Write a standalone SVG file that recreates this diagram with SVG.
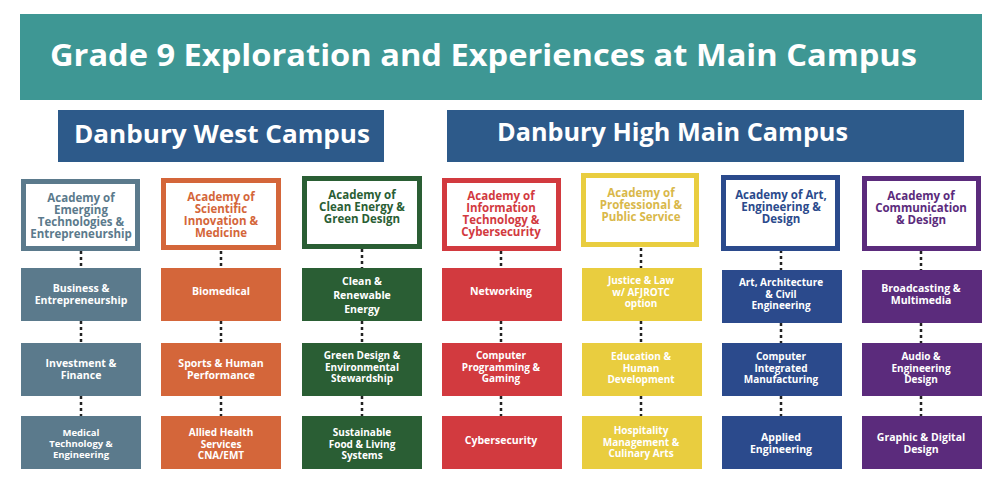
<svg xmlns="http://www.w3.org/2000/svg" width="1000" height="504" viewBox="0 0 1000 504">
<style>
text{font-family:"Open Sans","Liberation Sans",sans-serif;font-weight:700;text-anchor:middle}
.h{font-size:11.5px}
.c{font-size:10.5px;fill:#fff}
.s{font-size:10px}
.b{fill:#fff;font-size:25px;text-anchor:start}
.hd{fill:#fff;stroke-width:5}
.cn{stroke:#222;stroke-width:2.5;stroke-dasharray:3,3;fill:none}
</style>
<rect width="1000" height="504" fill="#fff"/>
<g id="title"><rect x="20" y="14" width="962" height="86" fill="#3e9794"/><text x="50" y="66" textLength="867" lengthAdjust="spacingAndGlyphs" style="font-size:31px;fill:#fff;text-anchor:start">Grade 9 Exploration and Experiences at Main Campus</text></g>
<g id="west"><rect x="58" y="110" width="326" height="52" fill="#2d5a8a"/><text class="b" x="74" y="143" textLength="296" lengthAdjust="spacingAndGlyphs">Danbury West Campus</text></g>
<g id="main"><rect x="447" y="110" width="517" height="52" fill="#2d5a8a"/><text class="b" x="497" y="141" textLength="351" lengthAdjust="spacingAndGlyphs">Danbury High Main Campus</text></g>
<g id="connectors">
<path class="cn" d="M81 251V268M81 321V343M81 396V416M221 251V268M221 321V343M221 396V416M362 249V268M362 321V343M362 396V416M501 251V268M501 321V343M501 396V416M641 248V268M641 321V343M641 396V416M781 250V270M781 323V343M781 396V416M921 251V270M921 323V343M921 396V416"/>
</g>
<g id="a1" fill="#5b7a8c"><rect class="hd" x="23.5" y="181.5" width="114" height="67" stroke="#5b7a8c"/><text class="h" x="81" y="202">Academy of<tspan x="81" dy="12">Emerging</tspan><tspan x="81" dy="12">Technologies &amp;</tspan><tspan x="81" dy="12">Entrepreneurship</tspan></text>
<rect x="21" y="268" width="120" height="53"/><text class="c" x="81" y="292">Business &amp;<tspan x="81" dy="12">Entrepreneurship</tspan></text>
<rect x="21" y="343" width="120" height="53"/><text class="c" x="81" y="367">Investment &amp;<tspan x="81" dy="12">Finance</tspan></text>
<rect x="21" y="416" width="120" height="53"/><text class="c" x="81" y="436" style="font-size:9.5px">Medical<tspan x="81" dy="11">Technology &amp;</tspan><tspan x="81" dy="11">Engineering</tspan></text></g>
<g id="a2" fill="#d4663a"><rect class="hd" x="163.5" y="180.5" width="115" height="67" stroke="#d4663a"/><text class="h" x="221" y="201">Academy of<tspan x="221" dy="12">Scientific</tspan><tspan x="221" dy="12">Innovation &amp;</tspan><tspan x="221" dy="12">Medicine</tspan></text>
<rect x="161" y="268" width="120" height="53"/><text class="c" x="221" y="295">Biomedical</text>
<rect x="161" y="343" width="120" height="53"/><text class="c" x="221" y="367">Sports &amp; Human<tspan x="221" dy="12">Performance</tspan></text>
<rect x="161" y="416" width="120" height="53"/><text class="c s" x="221" y="436">Allied Health<tspan x="221" dy="11.5">Services</tspan><tspan x="221" dy="11.5">CNA/EMT</tspan></text></g>
<g id="a3" fill="#2a5e34"><rect class="hd" x="304.5" y="178.5" width="115" height="68" stroke="#2a5e34"/><text class="h" x="362" y="199">Academy of<tspan x="362" dy="12">Clean Energy &amp;</tspan><tspan x="362" dy="12">Green Design</tspan></text>
<rect x="302" y="268" width="120" height="53"/><text class="c" x="362" y="285">Clean &amp;<tspan x="362" dy="14">Renewable</tspan><tspan x="362" dy="14">Energy</tspan></text>
<rect x="302" y="343" width="120" height="53"/><text class="c s" x="362" y="359">Green Design &amp;<tspan x="362" dy="11.5">Environmental</tspan><tspan x="362" dy="11.5">Stewardship</tspan></text>
<rect x="302" y="416" width="120" height="53"/><text class="c s" x="362" y="436">Sustainable<tspan x="362" dy="11.5">Food &amp; Living</tspan><tspan x="362" dy="11.5">Systems</tspan></text></g>
<g id="a4" fill="#d23a3f"><rect class="hd" x="444.5" y="180.5" width="114" height="68" stroke="#d23a3f"/><text class="h" x="501" y="200">Academy of<tspan x="501" dy="12">Information</tspan><tspan x="501" dy="12">Technology &amp;</tspan><tspan x="501" dy="12">Cybersecurity</tspan></text>
<rect x="442" y="268" width="120" height="53"/><text class="c" x="501" y="295">Networking</text>
<rect x="442" y="343" width="120" height="53"/><text class="c s" x="501" y="359">Computer<tspan x="501" dy="11.5">Programming &amp;</tspan><tspan x="501" dy="11.5">Gaming</tspan></text>
<rect x="442" y="416" width="120" height="53"/><text class="c" x="501" y="444">Cybersecurity</text></g>
<g id="a5" fill="#e9cd3f"><rect class="hd" x="583.5" y="175.5" width="113" height="69" stroke="#e9cd3f"/><text class="h" x="641" y="197" fill="#d9b84a">Academy of<tspan x="641" dy="12">Professional &amp;</tspan><tspan x="641" dy="12">Public Service</tspan></text>
<rect x="582" y="268" width="120" height="53"/><text class="c s" x="641" y="284">Justice &amp; Law<tspan x="641" dy="11.5">w/ AFJROTC</tspan><tspan x="641" dy="11.5">option</tspan></text>
<rect x="582" y="343" width="120" height="53"/><text class="c s" x="641" y="360">Education &amp;<tspan x="641" dy="11.5">Human</tspan><tspan x="641" dy="11.5">Development</tspan></text>
<rect x="582" y="416" width="120" height="53"/><text class="c s" x="641" y="434">Hospitality<tspan x="641" dy="11.5">Management &amp;</tspan><tspan x="641" dy="11.5">Culinary Arts</tspan></text></g>
<g id="a6" fill="#2b4a8c"><rect class="hd" x="723.5" y="177.5" width="114" height="71" stroke="#2b4a8c"/><text class="h" x="781" y="199">Academy of Art,<tspan x="781" dy="12">Engineering &amp;</tspan><tspan x="781" dy="12">Design</tspan></text>
<rect x="722" y="270" width="120" height="53"/><text class="c s" x="781" y="286">Art, Architecture<tspan x="781" dy="11.5">&amp; Civil</tspan><tspan x="781" dy="11.5">Engineering</tspan></text>
<rect x="722" y="343" width="120" height="53"/><text class="c s" x="781" y="360">Computer<tspan x="781" dy="11.5">Integrated</tspan><tspan x="781" dy="11.5">Manufacturing</tspan></text>
<rect x="722" y="416" width="120" height="53"/><text class="c" x="781" y="441">Applied<tspan x="781" dy="11.5">Engineering</tspan></text></g>
<g id="a7" fill="#5b2b7c"><rect class="hd" x="864.5" y="178.5" width="114" height="70" stroke="#5b2b7c"/><text class="h" x="921" y="200">Academy of<tspan x="921" dy="12">Communication</tspan><tspan x="921" dy="12">&amp; Design</tspan></text>
<rect x="862" y="270" width="120" height="53"/><text class="c" x="921" y="292">Broadcasting &amp;<tspan x="921" dy="11.5">Multimedia</tspan></text>
<rect x="862" y="343" width="120" height="53"/><text class="c s" x="921" y="360">Audio &amp;<tspan x="921" dy="11.5">Engineering</tspan><tspan x="921" dy="11.5">Design</tspan></text>
<rect x="862" y="416" width="120" height="53"/><text class="c" x="921" y="441">Graphic &amp; Digital<tspan x="921" dy="11.5">Design</tspan></text></g>
</svg>
